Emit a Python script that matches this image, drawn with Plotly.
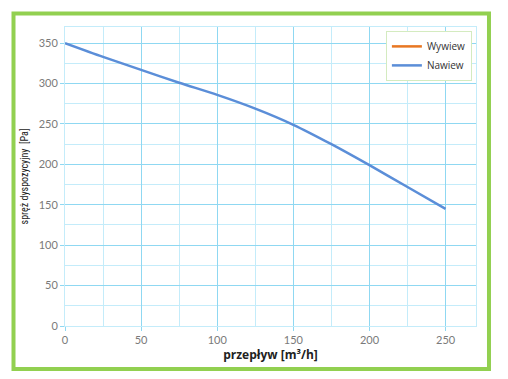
import plotly.graph_objects as go

przeplyw = [0, 25, 50, 75, 100, 125, 150, 175, 200, 225, 250]
nawiew = [350, 333, 317, 301, 286, 269, 249, 225, 199, 172, 145]
wywiew_x = [None]
wywiew_y = [None]

fig = go.Figure()
fig.add_trace(go.Scatter(x=wywiew_x, y=wywiew_y, mode="lines", name="Wywiew",
                         line=dict(color="#E87722", width=2.5)))
fig.add_trace(go.Scatter(x=przeplyw, y=nawiew, mode="lines", name="Nawiew",
                         line=dict(color="#5B8ED8", width=2.5, shape="spline", smoothing=0.8)))

grid_major = "#8FD8F2"
grid_minor = "#C4ECFA"
tickfont = dict(family="Lato", size=11, color="#7A7A7A")

fig.update_layout(
    width=500, height=371,
    margin=dict(l=57, r=32, t=19, b=53, autoexpand=False),
    paper_bgcolor="white", plot_bgcolor="white",
    showlegend=True,
    legend=dict(x=0.99, y=0.987, xanchor="right", yanchor="top",
                bgcolor="white", bordercolor="#D4EBC0", borderwidth=1,
                font=dict(family="Open Sans", size=10, color="#333333"),
                itemwidth=30, tracegroupgap=2),
    xaxis=dict(range=[0, 270], dtick=50, tick0=0, automargin=False,
               showgrid=True, gridcolor=grid_major, gridwidth=1,
               minor=dict(dtick=25, showgrid=True, gridcolor=grid_minor, gridwidth=1),
               showline=True, linecolor=grid_minor, mirror=True,
               ticks="outside", ticklen=4, tickcolor=grid_major,
               zeroline=False, tickfont=tickfont,
               title=dict(text="<b>przepływ [m³/h]</b>", standoff=5,
                          font=dict(family="Open Sans", size=12, color="#222222"))),
    yaxis=dict(range=[0, 370], dtick=50, tick0=0, automargin=False,
               showgrid=True, gridcolor=grid_major, gridwidth=1,
               minor=dict(dtick=25, showgrid=True, gridcolor=grid_minor, gridwidth=1),
               showline=True, linecolor=grid_minor, mirror=True,
               ticks="outside", ticklen=4, tickcolor=grid_major,
               zeroline=False, tickfont=tickfont,
               title=dict(text="spręż dyspozycyjny  [Pa]", standoff=8,
                          font=dict(family="Roboto Condensed, Liberation Sans Narrow, Roboto", size=10, color="#222222"))),
    shapes=[dict(type="rect", xref="paper", yref="paper",
                 x0=-0.1253, x1=1.0316, y0=-0.1438, y1=1.0452,
                 line=dict(color="#92D050", width=4), fillcolor="rgba(0,0,0,0)",
                 layer="below")],
)

fig.write_html("out.html")
